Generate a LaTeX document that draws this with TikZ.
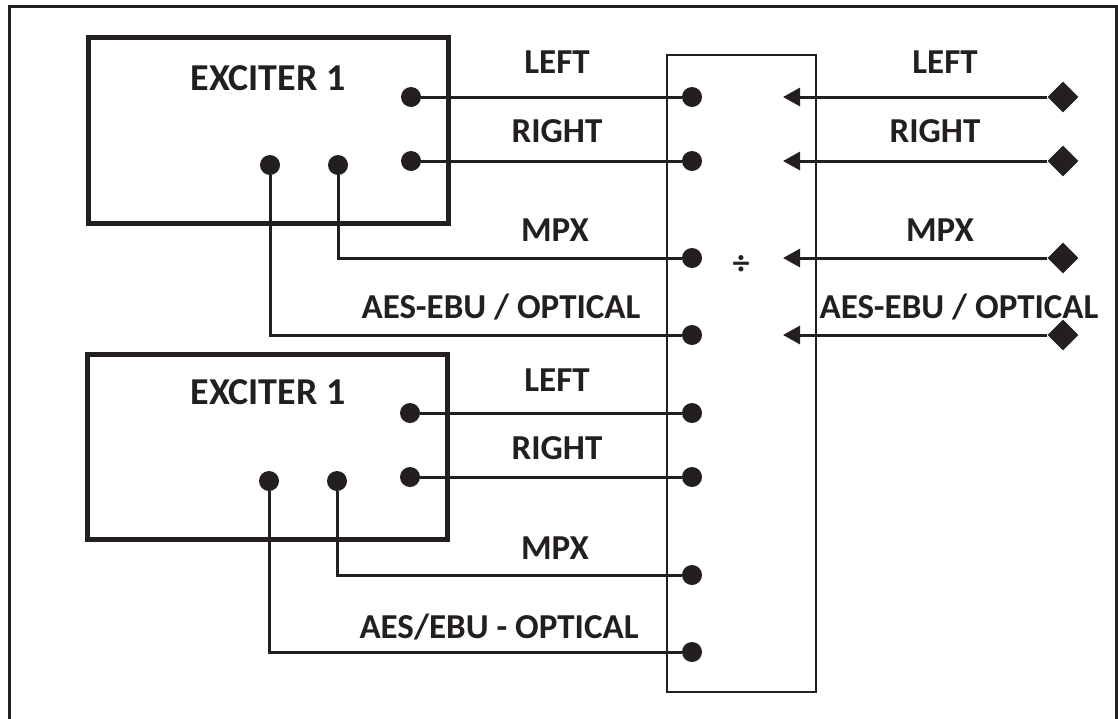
\documentclass[tikz,border=0pt]{standalone}
\usepackage{fontspec}
\setmainfont{Carlito}
\usetikzlibrary{arrows.meta,shapes.geometric}
\definecolor{ink}{HTML}{231F20}
\begin{document}
\begin{tikzpicture}[x=1pt,y=-1pt,
  lbl/.style={font=\fontsize{35}{40}\selectfont\bfseries,text=ink,inner sep=0pt},
  ttl/.style={font=\fontsize{38}{42}\selectfont\bfseries,text=ink,inner sep=0pt},
  dotn/.style={circle,fill=ink,inner sep=0pt,minimum size=20pt},
  dia/.style={diamond,fill=ink,inner sep=0pt,minimum width=31pt,minimum height=31pt},
  exbox/.style={draw=ink,line width=5pt,inner sep=0pt},
  wire/.style={draw=ink,line width=3pt},
  arr/.style={wire,-{Triangle[length=17pt,width=18pt]}}]
\useasboundingbox (0,0) rectangle (1118,718);
% outer frame
\draw[ink,line width=3pt] (9,730) -- (9,6) -- (1116,6) -- (1116,730);
% exciter boxes
\node[exbox,minimum width=360pt,minimum height=186pt] (ex1) at (268,130) {};
\node[exbox,minimum width=360pt,minimum height=185pt] (ex2) at (267,447) {};
\node[ttl] (ex1t) at (268,78) {EXCITER 1};
\node[ttl] (ex2t) at (268,392) {EXCITER 1};
% middle box
\node[draw=ink,line width=2pt,minimum width=149pt,minimum height=637pt,inner sep=0pt] (mid) at (741.5,373.5) {};
\node[font=\fontsize{34}{38}\selectfont\bfseries,text=ink,inner sep=0pt] (div) at (741,265) {÷};
% exciter 1 dots
\node[dotn] (aL) at (411,97) {};
\node[dotn] (aR) at (411,161) {};
\node[dotn] (aA) at (270,165) {};
\node[dotn] (aM) at (338,165) {};
% exciter 2 dots
\node[dotn] (bL) at (410,413) {};
\node[dotn] (bR) at (410,477) {};
\node[dotn] (bA) at (269,481) {};
\node[dotn] (bM) at (337,481) {};
% middle dots
\node[dotn] (m1) at (692,97) {};
\node[dotn] (m2) at (692,161) {};
\node[dotn] (m3) at (692,258) {};
\node[dotn] (m4) at (692,335) {};
\node[dotn] (m5) at (692,413) {};
\node[dotn] (m6) at (692,477) {};
\node[dotn] (m7) at (692,575) {};
\node[dotn] (m8) at (692,652) {};
% connections
\draw[wire] (aL) -- (m1);
\draw[wire] (aR) -- (m2);
\draw[wire] (aM) |- (m3);
\draw[wire] (aA) |- (m4);
\draw[wire] (bL) -- (m5);
\draw[wire] (bR) -- (m6);
\draw[wire] (bM) |- (m7);
\draw[wire] (bA) |- (m8);
% labels left
\node[lbl] (l1) at (557,62) {LEFT};
\node[lbl] (l2) at (557,131) {RIGHT};
\node[lbl] (l3) at (555,230) {MPX};
\node[lbl] (l4) at (501,307) {AES-EBU / OPTICAL};
\node[lbl] (l5) at (557,380) {LEFT};
\node[lbl] (l6) at (557,448) {RIGHT};
\node[lbl] (l7) at (555,548) {MPX};
\node[lbl] (l8) at (499,627) {AES/EBU - OPTICAL};
% right side inputs
\node[dia] (d1) at (1063,97) {};
\node[dia] (d2) at (1063,161) {};
\node[dia] (d3) at (1063,258) {};
\node[dia] (d4) at (1063,335) {};
\coordinate (t1) at (783,97);
\coordinate (t2) at (783,161);
\coordinate (t3) at (783,258);
\coordinate (t4) at (783,335);
\draw[arr] (d1) -- (t1);
\draw[arr] (d2) -- (t2);
\draw[arr] (d3) -- (t3);
\draw[arr] (d4) -- (t4);
\node[lbl] (r1) at (945,62) {LEFT};
\node[lbl] (r2) at (935,131) {RIGHT};
\node[lbl] (r3) at (940,230) {MPX};
\node[lbl] (r4) at (959,307) {AES-EBU / OPTICAL};
\end{tikzpicture}
\end{document}
